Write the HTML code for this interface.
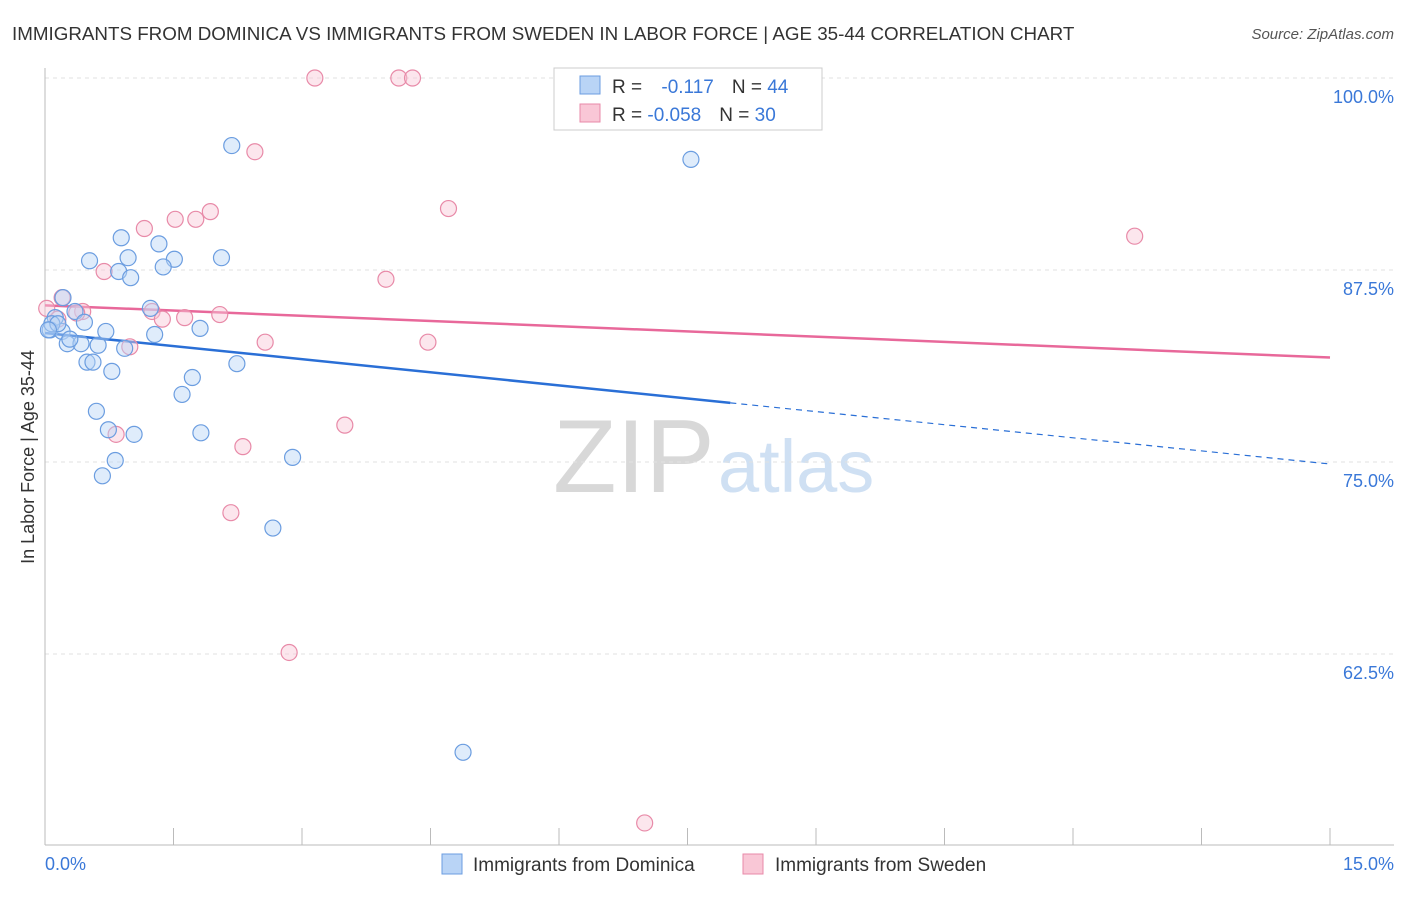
<!DOCTYPE html>
<html><head><meta charset="utf-8"><style>
body{margin:0;background:#fff;font-family:"Liberation Sans",sans-serif;}
svg text{font-family:"Liberation Sans",sans-serif;}
</style></head><body>
<svg id="chart" width="1406" height="892">
<text x="12" y="40" font-size="18.8" fill="#333">IMMIGRANTS FROM DOMINICA VS IMMIGRANTS FROM SWEDEN IN LABOR FORCE | AGE 35-44 CORRELATION CHART</text>
<text x="1394" y="39" font-size="15" fill="#555" font-style="italic" text-anchor="end">Source: ZipAtlas.com</text>
<text x="553" y="492" font-size="104" fill="#d8d8d8" font-family="Liberation Serif">ZIP</text>
<text x="718" y="492" font-size="74" fill="#cfe0f3">atlas</text>
<g id="grid"></g><g id="axes"></g><g id="trend"></g><g id="pts"></g>
<g>
<rect x="554" y="68" width="268" height="62" fill="#fff" stroke="#ccc"/>
<rect x="580" y="76" width="20" height="18" fill="#b9d4f6" stroke="#6b9de0"/>
<rect x="580" y="104" width="20" height="18" fill="#f9c7d6" stroke="#e88aa8"/>
<text x="612" y="93" font-size="19" fill="#333">R = <tspan fill="#3a78d8" dx="14">-0.117</tspan><tspan dx="18" fill="#333">N = </tspan><tspan fill="#3a78d8">44</tspan></text>
<text x="612" y="121" font-size="19" fill="#333">R = <tspan fill="#3a78d8">-0.058</tspan><tspan dx="18" fill="#333">N = </tspan><tspan fill="#3a78d8">30</tspan></text>
</g>
<g>
<rect x="442" y="854" width="20" height="20" fill="#b9d4f6" stroke="#6b9de0"/>
<text x="473" y="871" font-size="19" fill="#333">Immigrants from Dominica</text>
<rect x="743" y="854" width="20" height="20" fill="#f9c7d6" stroke="#e88aa8"/>
<text x="775" y="871" font-size="19" fill="#333">Immigrants from Sweden</text>
</g>
<text x="45" y="870" font-size="18" fill="#3a78d8">0.0%</text>
<text x="1394" y="870" font-size="18" fill="#3a78d8" text-anchor="end">15.0%</text>
<text transform="translate(34,457) rotate(-90)" font-size="18" fill="#333" text-anchor="middle">In Labor Force | Age 35-44</text>
</svg>
<script>
const yTicks=[100,87.5,75,62.5];
const yTickLabels=["100.0%","87.5%","75.0%","62.5%"];
const xTicks=[0,1.5,3,4.5,6,7.5,9,10.5,12,13.5,15];
const domX=[2.18,7.54,0.89,1.33,0.52,0.97,1.51,2.06,1.38,0.86,1.00,0.21,1.23,0.35,0.12,0.46,0.06,0.20,0.71,1.28,1.81,0.26,0.42,0.62,0.93,0.49,0.56,0.78,2.24,1.72,1.60,0.60,0.74,1.04,1.82,0.82,2.89,0.67,2.66,4.88,0.08,0.15,0.04,0.29];
const domY=[95.6,94.7,89.6,89.2,88.1,88.3,88.2,88.3,87.7,87.4,87.0,85.7,85.0,84.8,84.4,84.1,83.6,83.5,83.5,83.3,83.7,82.7,82.7,82.6,82.4,81.5,81.5,80.9,81.4,80.5,79.4,78.3,77.1,76.8,76.9,75.1,75.3,74.1,70.7,56.1,84.0,84.0,83.6,83.0];
const swX=[3.15,4.13,4.29,2.45,4.71,1.93,1.52,1.76,1.16,12.72,0.69,3.98,0.20,0.02,0.44,0.37,1.25,1.63,1.37,2.04,0.15,2.57,4.47,0.99,3.50,0.83,2.31,2.17,2.85,7.00];
const swY=[100,100,100,95.2,91.5,91.3,90.8,90.8,90.2,89.7,87.4,86.9,85.7,85.0,84.8,84.7,84.8,84.4,84.3,84.6,84.3,82.8,82.8,82.5,77.4,76.8,76.0,71.7,62.6,51.5];
const trendDom=[83.4,74.87], trendSw=[85.2,81.8], domSolidEnd=8.0;
const X=v=>45+v/15*1285, Y=v=>78+(100-v)*15.36;
const NS="http://www.w3.org/2000/svg";
function mk(t,a,p){const e=document.createElementNS(NS,t);for(const k in a)e.setAttribute(k,a[k]);document.getElementById(p).appendChild(e);return e;}
yTicks.forEach((t,i)=>{
 const l=mk('line',{x1:45,x2:1394,y1:Y(t),y2:Y(t),stroke:'#e2e2e2','stroke-dasharray':'4,4'},'grid');
 
 
 const tx=mk('text',{x:1394,y:Y(t)+25,'font-size':18,fill:'#3a78d8','text-anchor':'end'},'grid');
 tx.textContent=yTickLabels[i];
 
 
});
const xa=mk('line',{x1:45,x2:1394,y1:845,y2:845,stroke:'#bbb'},'axes');


const ya=mk('line',{x1:45,x2:45,y1:68,y2:845,stroke:'#bbb'},'axes');


xTicks.forEach(t=>{const l=mk('line',{x1:X(t),x2:X(t),y1:828,y2:845,stroke:'#bbb'},'axes');
 
 });
function pt(x,y,c,s,n){const e=mk('circle',{cx:X(x),cy:Y(y),r:8,fill:c,'fill-opacity':0.45,stroke:s,'stroke-width':1.2},'pts');
 
 }
swX.forEach((x,i)=>pt(x,swY[i],'#f9c7d6','#e88aa8','sweden-point'));
domX.forEach((x,i)=>pt(x,domY[i],'#b9d4f6','#6b9de0','dominica-point'));
const lin=(a,x)=>a[0]+(a[1]-a[0])*x/15;
let e=mk('line',{x1:X(0),y1:Y(lin(trendSw,0)),x2:X(15),y2:Y(lin(trendSw,15)),stroke:'#e8689a','stroke-width':2.5},'trend');


e=mk('line',{x1:X(0),y1:Y(lin(trendDom,0)),x2:X(domSolidEnd),y2:Y(lin(trendDom,domSolidEnd)),stroke:'#2a6fd6','stroke-width':2.5},'trend');


e=mk('line',{x1:X(domSolidEnd),y1:Y(lin(trendDom,domSolidEnd)),x2:X(15),y2:Y(lin(trendDom,15)),stroke:'#2a6fd6','stroke-width':1.2,'stroke-dasharray':'6,5'},'trend');


</script>
</body></html>
